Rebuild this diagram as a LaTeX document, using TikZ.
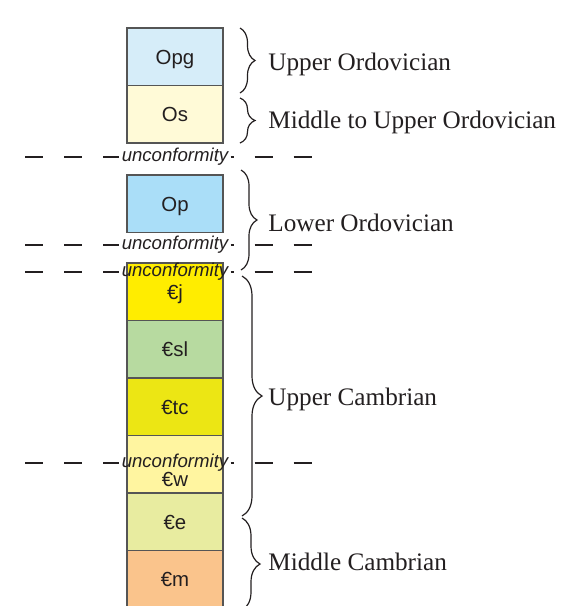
\documentclass[tikz,border=0pt]{standalone}
\usepackage{fontspec}
\setmainfont{Liberation Serif}
\newfontfamily\lsans{Liberation Sans}
\usetikzlibrary{decorations.pathreplacing}
\definecolor{ink}{RGB}{35,31,32}
\definecolor{linegray}{RGB}{85,85,85}
\definecolor{cOpg}{RGB}{214,237,249}
\definecolor{cOs}{RGB}{255,250,215}
\definecolor{cOp}{RGB}{170,222,248}
\definecolor{cCj}{RGB}{255,237,0}
\definecolor{cCsl}{RGB}{183,218,160}
\definecolor{cCtc}{RGB}{236,230,20}
\definecolor{cCw}{RGB}{255,245,160}
\definecolor{cCe}{RGB}{232,236,160}
\definecolor{cCm}{RGB}{250,196,140}
\begin{document}
\begin{tikzpicture}[x=0.5pt,y=-0.5pt,
  unit/.style={draw=linegray, line width=0.6pt, minimum width=48pt, minimum height=28.75pt, inner sep=0pt, text height=7.3pt, text depth=0pt, font=\lsans\fontsize{10.2}{12}\selectfont, text=ink},
  unitlbl/.style={inner sep=0pt, text height=7.3pt, text depth=0pt, font=\lsans\fontsize{10.2}{12}\selectfont, text=ink},
  uncf/.style={font=\lsans\itshape\fontsize{9.3}{11}\selectfont, inner sep=1pt, text=ink},
  dashln/.style={draw=ink, line width=0.6pt, dash pattern=on 9pt off 10.5pt},
  brc/.style={decorate, decoration={brace, amplitude=#1}, draw=ink, line width=0.6pt},
  period/.style={anchor=base west, font=\fontsize{12.6}{14}\selectfont, text=ink, inner sep=0pt}]
\useasboundingbox (0,0) rectangle (571,606);
\clip (0,0) rectangle (571,606);
% units
\node[unit, fill=cOpg] (opg) at (175,56.75) {Opg};
\node[unit, fill=cOs]  (os)  at (175,114.25) {Os};
\node[unit, fill=cOp]  (op)  at (175,203.75) {Op};
\node[unit, fill=cCj]  (cj)  at (175,291.75) {€j};
\node[unit, fill=cCsl] (csl) at (175,349.25) {€sl};
\node[unit, fill=cCtc] (ctc) at (175,406.75) {€tc};
\node[unit, fill=cCw]  (cw)  at (175,464.25) {};
\node[unitlbl]         (cwl) at (175,479) {€w};
\node[unit, fill=cCe]  (ce)  at (175,521.75) {€e};
\node[unit, fill=cCm]  (cm)  at (175,579.25) {€m};
% unconformities
\foreach \n/\yy in {u1/157,u2/245,u3/272,u4/463}{
  \node[uncf] (\n) at (175,\yy) {unconformity};
  \coordinate (\n l) at (25,\yy);
  \coordinate (\n r) at (313,\yy);
  \draw[dashln] (\n l) -- (\n.west);
  \draw[dashln, dash phase=7.5pt] (\n.east) -- (\n r);
}
% braces
\coordinate (b1t) at (240,28);  \coordinate (b1b) at (240,93);
\coordinate (b2t) at (240,98);  \coordinate (b2b) at (240,143);
\coordinate (b3t) at (241,170); \coordinate (b3b) at (241,270);
\coordinate (b4t) at (242,276); \coordinate (b4b) at (242,516);
\coordinate (b5t) at (242,518); \coordinate (b5b) at (242,610);
\draw[brc=7.5pt] (b1t) -- (b1b);
\draw[brc=7.5pt] (b2t) -- (b2b);
\draw[brc=8pt] (b3t) -- (b3b);
\draw[brc=10pt] (b4t) -- (b4b);
\draw[brc=9pt] (b5t) -- (b5b);
% period labels
\node[period] (p1) at (268,70) {Upper Ordovician};
\node[period] (p2) at (268,128) {Middle to Upper Ordovician};
\node[period] (p3) at (268,231.5) {Lower Ordovician};
\node[period] (p4) at (268,405.5) {Upper Cambrian};
\node[period] (p5) at (268,570) {Middle Cambrian};
\end{tikzpicture}
\end{document}
